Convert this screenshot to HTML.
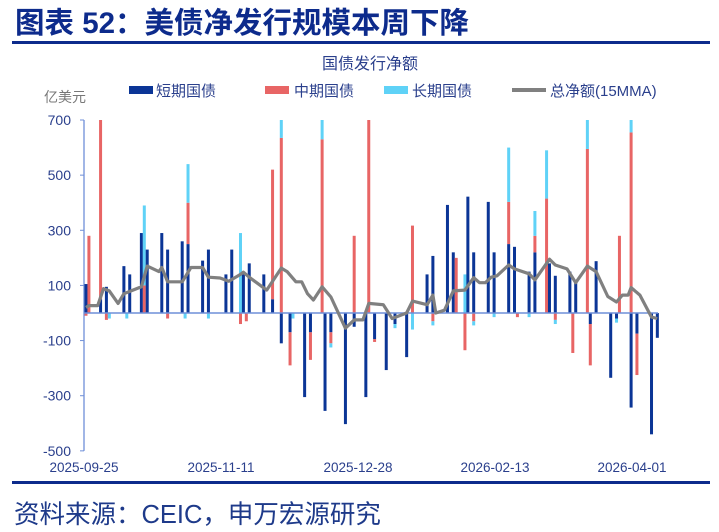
<!DOCTYPE html>
<html><head><meta charset="utf-8">
<style>
html,body{margin:0;padding:0;background:#fff;}
body{width:719px;height:532px;position:relative;overflow:hidden;font-family:"Liberation Sans","Noto Sans CJK SC",sans-serif;}
svg{position:absolute;left:0;top:0;}
</style></head>
<body>
<svg id="chart" width="719" height="532">
  <text x="15" y="33" font-size="29.5" font-weight="bold" fill="#0d2b8c" font-family="Liberation Sans,Noto Sans CJK SC,sans-serif">图表 52：美债净发行规模本周下降</text>
  <rect x="12" y="41" width="698" height="3" fill="#0d2b8c"/>
  <text x="370" y="69" font-size="16" fill="#2a3f8c" text-anchor="middle" font-family="Liberation Sans,Noto Sans CJK SC,sans-serif">国债发行净额</text>
  <text x="44" y="102" font-size="14" fill="#777" font-family="Liberation Sans,Noto Sans CJK SC,sans-serif">亿美元</text>
  <g font-size="15" fill="#2a3f8c" font-family="Liberation Sans,Noto Sans CJK SC,sans-serif">
    <g><rect x="129" y="86" width="24" height="8" fill="#0b3596"/><text x="156" y="96">短期国债</text></g>
    <g><rect x="265" y="86" width="24" height="8" fill="#e86565"/><text x="294" y="96">中期国债</text></g>
    <g><rect x="384" y="86" width="24" height="8" fill="#5fd2f7"/><text x="412" y="96">长期国债</text></g>
    <g><rect x="512" y="88" width="34" height="4" fill="#808080"/><text x="550" y="96">总净额(15MMA)</text></g>
  </g>
  <g id="plot"></g>
  <rect x="12" y="481" width="698" height="3" fill="#0d2b8c"/>
  <text x="14" y="523" font-size="25.5" fill="#1e3a8a" font-family="Liberation Sans,Noto Sans CJK SC,sans-serif">资料来源：CEIC，申万宏源研究</text>
</svg>
<script>
// bars: day offset from 2025-09-25
const barDays  = [0,1,5,7,8,13,14,15,19,20,21,26,28,33,34,35,40,42,48,50,53,54,55,56,61,64,67,70,71,75,77,81,82,84,89,92,96,97,99,103,106,110,112,117,119,124,126,127,130,131,133,138,140,145,147,148,152,154,158,159,161,166,167,168,172,173,175,180,182,183,187,189,194,196];
const shortVals= [105,0,50,95,0,170,0,140,290,0,230,290,230,260,0,250,190,230,140,230,0,140,0,180,140,50,-110,-70,0,-305,-70,0,-355,-70,-403,-50,-305,0,-95,-207,-40,-160,0,140,207,392,220,0,0,422,220,403,220,250,240,0,150,220,0,180,135,150,0,110,0,-40,188,-235,-20,0,-343,-75,-440,-90];
const midVals  = [-10,280,650,-25,0,0,0,0,0,100,0,0,-20,0,0,150,0,0,0,0,-40,0,-30,0,0,470,635,-120,0,0,-100,630,0,-40,0,280,0,700,-10,0,0,0,317,0,-30,0,0,200,-135,0,-30,0,0,153,0,-15,0,60,415,0,-25,0,-145,0,595,-150,0,0,0,280,655,-150,0,0];
const longVals = [0,0,0,0,-20,0,-20,0,0,290,0,0,0,0,-20,140,0,-20,0,0,290,0,0,0,0,0,65,0,-20,0,0,70,0,-15,0,0,0,0,0,0,-15,0,-60,0,-15,0,0,0,140,0,-15,0,-15,197,0,0,-15,90,175,0,-15,0,0,0,105,0,0,0,-15,0,45,0,0,0];
// 15-day moving average line
const maDays = [0,1,4,6,8,11,13,19,21,25,26,28,33,34,36,40,42,46,49,53,54,56,62,67,69,72,74,76,78,81,84,89,92,95,97,102,105,110,112,117,119,120,123,126,130,133,135,137,139,141,145,147,152,154,159,161,165,168,172,175,179,182,184,186,187,190,194,196];
const maVals = [20,27,27,88,80,35,70,95,170,150,165,113,113,130,165,165,130,127,115,140,148,130,83,163,150,113,113,70,47,95,58,-55,-25,-25,35,30,-20,0,43,30,65,0,10,80,83,128,110,110,130,135,174,160,142,120,195,174,160,110,170,150,60,40,65,65,92,65,-15,-20];
const yTicks = [700,500,300,100,-100,-300,-500];
const xTickDays = [0,47,94,141,188];
const xTickLabels = ["2025-09-25","2025-11-11","2025-12-28","2026-02-13","2026-04-01"];

const NS="http://www.w3.org/2000/svg";
const X0=84, PXD=2.915, Y0=313, PXV=193/700;
const xs=d=>X0+2+d*PXD;
const ys=v=>Y0-v*PXV;
const plot=document.getElementById('plot');
function mk(tag,attrs){const e=document.createElementNS(NS,tag);for(const k in attrs)e.setAttribute(k,attrs[k]);plot.appendChild(e);return e;}

const yAxis=mk('line',{x1:X0,y1:ys(700),x2:X0,y2:ys(-500),stroke:'#6f8fd8','stroke-width':1.3});


yTicks.forEach(v=>{
  const t=mk('line',{x1:X0-4,y1:ys(v),x2:X0,y2:ys(v),stroke:'#6f8fd8','stroke-width':1});
  
  
  const l=mk('text',{x:X0-13,y:ys(v)+5,'font-size':14,fill:'#2a3f8c','text-anchor':'end'});
  l.textContent=String(v);
  
  
});
xTickDays.forEach((d,i)=>{
  const l=mk('text',{x:X0+d*PXD,y:472,'font-size':13.5,fill:'#2a3f8c','text-anchor':'middle'});
  l.textContent=xTickLabels[i];
  
  
});

const colors=['#0b3596','#e86565','#5fd2f7'];
const names=['bar-short','bar-mid','bar-long'];
barDays.forEach((d,i)=>{
  let pos=0,neg=0;
  [shortVals[i],midVals[i],longVals[i]].forEach((v,s)=>{
    if(!v)return;
    let y1,y2;
    if(v>0){y1=ys(pos+v);y2=ys(pos);pos+=v;}else{y1=ys(neg);y2=ys(neg+v);neg+=v;}
    const r=mk('rect',{x:xs(d)-1.5,y:y1,width:3,height:Math.max(0.5,y2-y1),fill:colors[s]});
    
    
  });
});

const xAxis=mk('line',{x1:X0,y1:Y0,x2:658,y2:Y0,stroke:'#6f8fd8','stroke-width':1.4});



const pts=maDays.map((d,i)=>xs(d).toFixed(1)+','+ys(maVals[i]).toFixed(1)).join(' ');
const ma=mk('polyline',{points:pts,fill:'none',stroke:'#808080','stroke-width':3.2,'stroke-linejoin':'round'});


</script>
</body></html>
